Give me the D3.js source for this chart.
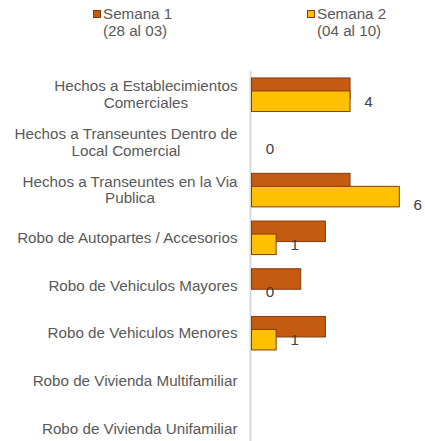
<!DOCTYPE html>
<meta charset="utf-8">
<style>
    body { margin: 0; background: #fff; }
    svg { display: block; font-family: "Liberation Sans", Arial, sans-serif; }
    .cat text { fill: #595959; font-size: 15.2px; }
    .legend text { fill: #595959; font-size: 15.2px; }
    .lbl { fill: #404040; font-size: 15.2px; }
</style>
<body>
<script src="https://cdn.jsdelivr.net/npm/d3@7"></script>
<script>
    var categories = [
        "Hechos a Establecimientos Comerciales",
        "Hechos a Transeuntes Dentro de Local Comercial",
        "Hechos a Transeuntes en la Via Publica",
        "Robo de Autopartes / Accesorios",
        "Robo de Vehiculos Mayores",
        "Robo de Vehiculos Menores",
        "Robo de Vivienda Multifamiliar",
        "Robo de Vivienda Unifamiliar"
    ];
    var semana1 = [4, 0, 4, 3, 2, 3, null, null];
    var semana2 = [4, 0, 6, 1, 0, 1, null, null];
    var seriesNames = [["Semana 1", "(28 al 03)"], ["Semana 2", "(04 al 10)"]];
    var ticks = [0, 1, 2, 3, 4, 5, 6];

    var width = 425, height = 441;
    var colors = ["#C55A11", "#FFC000"];
    var strokeCol = "#843C0C";

    var svg = d3.select("body").append("svg")
        .attr("width", width)
        .attr("height", height);

    var y = d3.scaleBand()
        .domain(categories)
        .range([70.6, 70.6 + 8 * 47.7])
        .padding(0);

    var x = d3.scaleLinear()
        .domain([0, d3.max(ticks)])
        .range([251.5, 399.3]);

    var step = y.step();
    var barH = step * 0.43;
    var off1 = -16.5, off2 = -3.5; // offsets from band centre (overlapping bars)

    function mid(c) { return y(c) + y.bandwidth() / 2; }

    // axis line
    svg.append("line")
        .attr("x1", 250.5).attr("x2", 250.5)
        .attr("y1", 71).attr("y2", height)
        .attr("stroke", "#d9d9d9")
        .attr("stroke-width", 2);

    var rows = categories.map(function(c, i) {
        return { cat: c, s1: semana1[i], s2: semana2[i] };
    });

    // semana 1 bars
    svg.append("g").selectAll("rect")
        .data(rows.filter(function(d) { return d.s1 != null && d.s1 > 0; }))
        .enter().append("rect")
        .attr("x", x(0))
        .attr("y", function(d) { return mid(d.cat) + off1; })
        .attr("width", function(d) { return x(d.s1) - x(0); })
        .attr("height", barH)
        .attr("fill", colors[0])
        .attr("stroke", strokeCol)
        .attr("stroke-width", 1);

    // semana 2 bars (drawn on top)
    svg.append("g").selectAll("rect")
        .data(rows.filter(function(d) { return d.s2 != null && d.s2 > 0; }))
        .enter().append("rect")
        .attr("x", x(0))
        .attr("y", function(d) { return mid(d.cat) + off2; })
        .attr("width", function(d) { return x(d.s2) - x(0); })
        .attr("height", barH)
        .attr("fill", colors[1])
        .attr("stroke", strokeCol)
        .attr("stroke-width", 1);

    // data labels for semana 2
    var maxV = d3.max(semana2);
    svg.append("g").selectAll("text")
        .data(rows.filter(function(d) { return d.s2 != null; }))
        .enter().append("text")
        .attr("class", "lbl")
        .attr("x", function(d) { return x(d.s2) + 18.5; })
        .attr("y", function(d) {
            var yy = mid(d.cat) + off2 + barH / 2;
            return d.s2 === maxV ? yy + 8 : yy;
        })
        .attr("dy", "0.35em")
        .attr("text-anchor", "middle")
        .text(function(d) { return d.s2; });

    // category labels, wrapped and centred inside a right-aligned block
    var catG = svg.append("g").attr("class", "cat");
    var rightEdge = 237.5, wrapW = 232, lineH = 16.6;
    categories.forEach(function(c) {
        var t = catG.append("text");
        var words = c.split(" "), lines = [], cur = [];
        words.forEach(function(w) {
            cur.push(w);
            t.text(cur.join(" "));
            if (t.node().getComputedTextLength() > wrapW && cur.length > 1) {
                cur.pop();
                lines.push(cur.join(" "));
                cur = [w];
            }
        });
        lines.push(cur.join(" "));
        t.text(null);
        var widths = lines.map(function(l) { t.text(l); return t.node().getComputedTextLength(); });
        t.text(null);
        var maxW = d3.max(widths);
        var cx = rightEdge - maxW / 2;
        var y0 = mid(c) - (lines.length - 1) * lineH / 2;
        lines.forEach(function(l, k) {
            t.append("tspan")
                .attr("x", cx)
                .attr("y", y0 + k * lineH)
                .attr("dy", "0.35em")
                .attr("text-anchor", "middle")
                .text(l);
        });
    });

    // legend
    var legX = [93.5, 307.5];
    var leg = svg.append("g").attr("class", "legend");
    seriesNames.forEach(function(s, i) {
        leg.append("rect")
            .attr("x", legX[i]).attr("y", 10.5)
            .attr("width", 7).attr("height", 7)
            .attr("fill", colors[i])
            .attr("stroke", strokeCol)
            .attr("stroke-width", 1);
        leg.append("text")
            .attr("x", legX[i] + 9.5).attr("y", 18.7)
            .text(s[0]);
        leg.append("text")
            .attr("x", legX[i] + 9.5).attr("y", 35.7)
            .text(s[1]);
    });
</script>
</body>
